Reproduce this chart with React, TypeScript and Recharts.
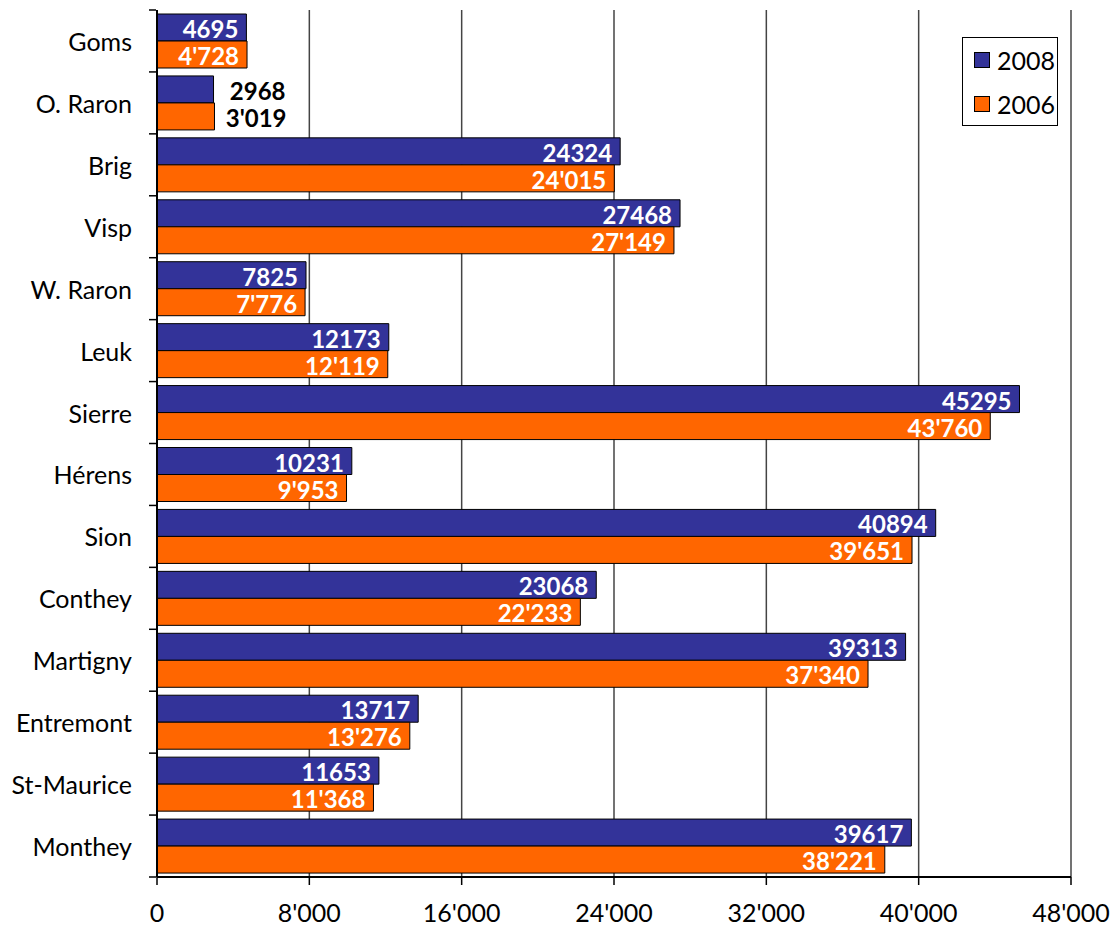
import React from "react";
import {
  BarChart,
  Bar,
  XAxis,
  YAxis,
  CartesianGrid,
  LabelList,
} from "recharts";

const bezirke = [
  "Goms",
  "O. Raron",
  "Brig",
  "Visp",
  "W. Raron",
  "Leuk",
  "Sierre",
  "Hérens",
  "Sion",
  "Conthey",
  "Martigny",
  "Entremont",
  "St-Maurice",
  "Monthey",
];

const werte2008 = [4695, 2968, 24324, 27468, 7825, 12173, 45295, 10231, 40894, 23068, 39313, 13717, 11653, 39617];
const werte2006 = [4728, 3019, 24015, 27149, 7776, 12119, 43760, 9953, 39651, 22233, 37340, 13276, 11368, 38221];

const xTicks = [0, 8000, 16000, 24000, 32000, 40000, 48000];

const data = bezirke.map((name, i) => ({
  name,
  y2008: werte2008[i],
  y2006: werte2006[i],
}));

const FONT = "Lato, 'Open Sans', sans-serif";
const FS = 25;
const LABEL_FS = 24;
const BLUE = "#333399";
const ORANGE = "#FF6600";

const W = 1115;
const H = 931;
const MARGIN = { top: 10, right: 44, bottom: 0, left: 0 };
const X_AXIS_H = 54;
const Y_AXIS_W = 157;
const BAND = (H - MARGIN.top - X_AXIS_H) / bezirke.length;

function fmt(v: number) {
  return String(v).replace(/\B(?=(\d{3})+(?!\d))/g, "'");
}

function CategoryTick(props: any) {
  const { x, y, payload, index } = props;
  const top = y - BAND / 2;
  return (
    <g>
      <line x1={x} x2={x + 7} y1={top} y2={top} stroke="#000" strokeWidth={1.5} />
      {index === bezirke.length - 1 && (
        <line x1={x} x2={x + 7} y1={top + BAND} y2={top + BAND} stroke="#000" strokeWidth={1.5} />
      )}
      <text
        x={x - 17}
        y={y}
        textAnchor="end"
        dominantBaseline="central"
        fontFamily={FONT}
        fontSize={FS}
        fill="#000"
      >
        {payload.value}
      </text>
    </g>
  );
}

function makeLabel(withSep: boolean) {
  return (props: any) => {
    const { x, y, width, height, value, index } = props;
    const outside = index === 1;
    const text = withSep ? fmt(value) : String(value);
    return (
      <text
        x={outside ? x + width + 72 : x + width - 8}
        y={y + height / 2 + 1}
        textAnchor="end"
        dominantBaseline="central"
        fontFamily={FONT}
        fontWeight="bold"
        fontSize={LABEL_FS}
        fill={outside ? "#000" : "#fff"}
      >
        {text}
      </text>
    );
  };
}

function LegendBox() {
  const items = [
    { label: "2008", color: BLUE },
    { label: "2006", color: ORANGE },
  ];
  return (
    <div
      style={{
        position: "absolute",
        left: 962,
        top: 37,
        border: "1px solid #000",
        width: 94,
        height: 87,
        background: "#fff",
        fontFamily: FONT,
        fontSize: FS,
      }}
    >
      {items.map((it, i) => (
        <div
          key={it.label}
          style={{
            display: "flex",
            alignItems: "center",
            position: "absolute",
            left: 11,
            top: 8 + i * 44,
          }}
        >
          <span
            style={{
              display: "inline-block",
              width: 14,
              height: 14,
              background: it.color,
              border: "1px solid #000",
              marginRight: 7,
            }}
          />
          <span style={{ color: "#000", lineHeight: "28px" }}>{it.label}</span>
        </div>
      ))}
    </div>
  );
}

export default function App() {
  return (
    <div style={{ position: "absolute", left: 0, top: 0, width: W, height: H, background: "#fff" }}>
      <BarChart
        width={W}
        height={H}
        data={data}
        layout="vertical"
        margin={MARGIN}
        barCategoryGap={4}
        barGap={0}
      >
        <CartesianGrid horizontal={false} stroke="#444" strokeWidth={1.5} />
        <XAxis
          type="number"
          domain={[0, 48000]}
          ticks={xTicks}
          tickFormatter={fmt}
          height={X_AXIS_H}
          stroke="#000"
          axisLine={{ stroke: "#000", strokeWidth: 2 }}
          tickLine={{ stroke: "#000", strokeWidth: 1.5 }}
          tickSize={8}
          tickMargin={19}
          interval={0}
          tick={{ fontFamily: FONT, fontSize: FS, fill: "#000" }}
        />
        <YAxis
          type="category"
          dataKey="name"
          width={Y_AXIS_W}
          axisLine={{ stroke: "#000", strokeWidth: 2 }}
          tickLine={false}
          tick={<CategoryTick />}
          interval={0}
        />
        <Bar dataKey="y2008" fill={BLUE} stroke="#000" strokeWidth={1} isAnimationActive={false}>
          <LabelList dataKey="y2008" content={makeLabel(false)} />
        </Bar>
        <Bar dataKey="y2006" fill={ORANGE} stroke="#000" strokeWidth={1} isAnimationActive={false}>
          <LabelList dataKey="y2006" content={makeLabel(true)} />
        </Bar>
      </BarChart>
      <LegendBox />
    </div>
  );
}
